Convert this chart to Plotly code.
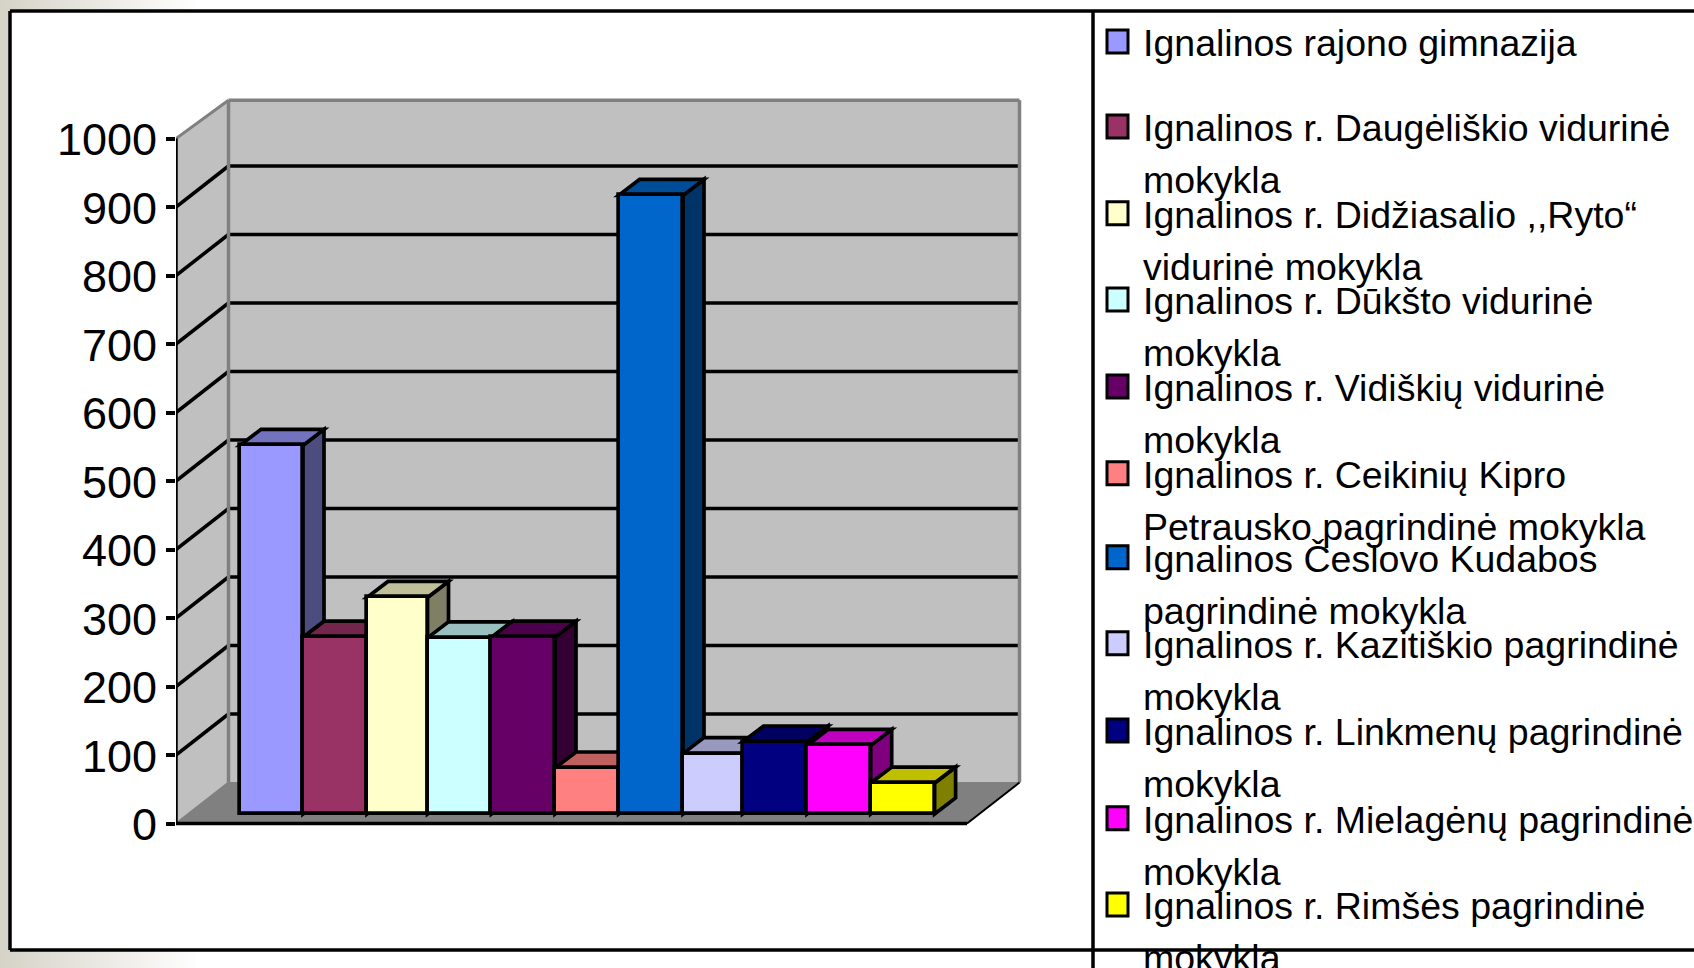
import plotly.graph_objects as go

# ---- data ----
SCHOOLS = [
    "Ignalinos rajono gimnazija",
    "Ignalinos r. Daugėliškio vidurinė mokykla",
    "Ignalinos r. Didžiasalio ,,Ryto“ vidurinė mokykla",
    "Ignalinos r. Dūkšto vidurinė mokykla",
    "Ignalinos r. Vidiškių vidurinė mokykla",
    "Ignalinos r. Ceikinių Kipro Petrausko pagrindinė mokykla",
    "Ignalinos Česlovo Kudabos pagrindinė mokykla",
    "Ignalinos r. Kazitiškio pagrindinė mokykla",
    "Ignalinos r. Linkmenų pagrindinė mokykla",
    "Ignalinos r. Mielagėnų pagrindinė mokykla",
    "Ignalinos r. Rimšės pagrindinė mokykla",
]
VALUES = [538, 258, 316, 257, 258, 67, 903, 88, 105, 100, 45]
TICKS = [0, 100, 200, 300, 400, 500, 600, 700, 800, 900, 1000]
# legend text is broken the way the reference breaks it
LEGEND_LINES = [
    ["Ignalinos rajono gimnazija"],
    ["Ignalinos r. Daugėliškio vidurinė", "mokykla"],
    ["Ignalinos r. Didžiasalio ,,Ryto“", "vidurinė mokykla"],
    ["Ignalinos r. Dūkšto vidurinė", "mokykla"],
    ["Ignalinos r. Vidiškių vidurinė", "mokykla"],
    ["Ignalinos r. Ceikinių Kipro", "Petrausko pagrindinė mokykla"],
    ["Ignalinos Česlovo Kudabos", "pagrindinė mokykla"],
    ["Ignalinos r. Kazitiškio pagrindinė", "mokykla"],
    ["Ignalinos r. Linkmenų pagrindinė", "mokykla"],
    ["Ignalinos r. Mielagėnų pagrindinė", "mokykla"],
    ["Ignalinos r. Rimšės pagrindinė", "mokykla"],
]
COLORS = ["#9999FF", "#993366", "#FFFFCC", "#CCFFFF", "#660066", "#FF8080",
          "#0066CC", "#CCCCFF", "#000080", "#FF00FF", "#FFFF00"]

# ---- layout constants (page pixels) ----
W, H = 1694, 968
PLOT_L = 176
Y0_PX, Y_SCALE = 823.5, 0.685      # pixel of value 0, pixels per value unit
CAT_PX, CAT0_PX = 63.2, 271.6      # pixels per category, centre of category 0
# source rendering rounds bar widths unevenly: bar edges in page pixels
BAR_EDGES_PX = [240, 303, 367, 427.5, 491.4, 555, 618.6, 683, 742.5, 807, 870.7, 934.6]
WALL_DX = 52.5 / CAT_PX            # wall depth, in category units
WALL_DY = 41 / Y_SCALE             # wall depth, in value units
BAR_DX = 21 / CAT_PX               # bar depth
BAR_DY = 16 / Y_SCALE
BAR_BASE = 14                      # lift of the bar fronts off the front floor edge
X_LEFT = (PLOT_L - CAT0_PX) / CAT_PX
X_FLOOR_R = (967 - CAT0_PX) / CAT_PX
WALL_TOP = 1000 + WALL_DY - 4
LEGEND_BASE = [55, 140, 226.7, 313, 400, 486.7, 570.7, 656.7, 744, 831.7, 918]
LEGEND_SHIFT = 1
LINE2 = 52
FONT = "Liberation Sans"
TICK_FS, LEG_FS = 45, 37.5
EDGE_W = 3.7


def shade(hex_c, k):
    r, g, b = (int(hex_c[i:i + 2], 16) for i in (1, 3, 5))
    return f"rgb({int(r * k)},{int(g * k)},{int(b * k)})"


def px(pt):
    return (pt - PLOT_L) / (W - PLOT_L)


def py(pt):
    return (H - pt) / H


def cat(pt):
    return (pt - CAT0_PX) / CAT_PX


def poly(points, fill, line="black", width=EDGE_W):
    d = "M" + " L".join(f"{x:.4f},{y:.3f}" for x, y in points) + " Z"
    return dict(type="path", path=d, xref="x", yref="y", layer="below",
                fillcolor=fill, line=dict(color=line, width=width))


def seg(x0, y0, x1, y1, color="black", width=3.5):
    return dict(type="line", x0=x0, y0=y0, x1=x1, y1=y1, xref="x", yref="y",
                layer="below", line=dict(color=color, width=width))


def paper_rect(x0, y0, x1, y1, fill, layer="below", line=None):
    return dict(type="rect", xref="paper", yref="paper", layer=layer,
                x0=px(x0), x1=px(x1), y0=py(y0), y1=py(y1), fillcolor=fill,
                line=line or dict(width=0))


def paper_line(x0, y0, x1, y1, width=3.5):
    return dict(type="line", xref="paper", yref="paper", layer="above",
                x0=px(x0), x1=px(x1), y0=py(y0), y1=py(y1),
                line=dict(color="black", width=width))


shapes = []
# page background strips, fading to white
STRIP = (214, 211, 200)
shapes.append(paper_rect(0, 0, 10, H, f"rgb{STRIP}"))
STEPS = 39
for k in range(STEPS):
    t = k / STEPS
    c = tuple(int(s + (255 - s) * t) for s in STRIP)
    x0, x1 = 195 * k / STEPS, 195 * (k + 1) / STEPS + 1
    shapes.append(paper_rect(x0, 0, x1, 10, f"rgb{c}"))
    shapes.append(paper_rect(x0, 950, x1, H, f"rgb{c}"))

# walls and floor of the 3-D box
XB = X_LEFT + WALL_DX
XB_R = X_FLOOR_R + WALL_DX
shapes.append(poly([(X_LEFT, 0), (XB, WALL_DY), (XB, WALL_TOP), (X_LEFT, 1000)], "#C0C0C0", "#C0C0C0", 1))
shapes.append(poly([(XB, WALL_DY), (XB_R, WALL_DY), (XB_R, WALL_TOP), (XB, WALL_TOP)], "#C0C0C0", "#C0C0C0", 1))
for t in TICKS[1:-1]:
    shapes.append(seg(X_LEFT, t, XB, t + WALL_DY))
    shapes.append(seg(XB, t + WALL_DY, XB_R, t + WALL_DY))
shapes.append(poly([(X_LEFT, 0), (XB, WALL_DY), (XB_R, WALL_DY), (X_FLOOR_R, 0)], "#808080", "#808080", 1))
shapes.append(seg(XB, WALL_DY, XB, WALL_TOP, "#808080", 3.5))
shapes.append(seg(XB, WALL_TOP, XB_R, WALL_TOP, "#808080", 3.5))
shapes.append(seg(XB_R, WALL_DY, XB_R, WALL_TOP, "#808080", 3.5))
shapes.append(seg(X_LEFT, 1000, XB, WALL_TOP, "#808080", 3))
shapes.append(seg(X_LEFT, 0, XB, WALL_DY, "#808080", 2))
shapes.append(seg(X_FLOOR_R, 0, XB_R, WALL_DY, "black", 2))
shapes.append(seg(X_LEFT, 0, X_FLOOR_R, 0, "black", 3.5))
shapes.append(seg(X_LEFT, 0, X_LEFT, 1000, "black", 3.5))

# bar top and side faces, drawn left to right so later bars cover earlier ones
LEFTS = [cat(p) for p in BAR_EDGES_PX[:-1]]
RIGHTS = [cat(p) for p in BAR_EDGES_PX[1:]]
for xl, xr, v, c in zip(LEFTS, RIGHTS, VALUES, COLORS):
    top = BAR_BASE + v
    shapes.append(poly([(xr, BAR_BASE), (xr + BAR_DX, BAR_BASE + BAR_DY),
                        (xr + BAR_DX, top + BAR_DY), (xr, top)], shade(c, 0.5)))
    shapes.append(poly([(xl, top), (xl + BAR_DX, top + BAR_DY),
                        (xr + BAR_DX, top + BAR_DY), (xr, top)], shade(c, 0.75)))

# legend swatches and text
annotations = []
for base, lines, c in zip(LEGEND_BASE, LEGEND_LINES, COLORS):
    b = base + LEGEND_SHIFT
    shapes.append(paper_rect(1107, b - 26, 1128, b - 3, c, "above",
                             dict(color="black", width=3)))
    for j, text in enumerate(lines):
        annotations.append(dict(
            text=text, xref="paper", yref="paper", showarrow=False,
            x=px(1141), y=py(b + j * LINE2 - 0.35 * LEG_FS),
            xanchor="left", yanchor="middle", align="left",
            font=dict(family=FONT, size=LEG_FS, color="black")))

# frame
shapes.append(paper_line(10, 11, W, 11))
shapes.append(paper_line(10, 11, 10, 950))
shapes.append(paper_line(10, 950, W, 950))
shapes.append(paper_line(1093, 11, 1093, H))

fig = go.Figure()
for xl, xr, name, v, c in zip(LEFTS, RIGHTS, SCHOOLS, VALUES, COLORS):
    fig.add_trace(go.Bar(x=[(xl + xr) / 2], y=[v], base=BAR_BASE, width=xr - xl, name=name,
                         marker=dict(color=c, line=dict(color="black", width=EDGE_W)),
                         showlegend=False))

fig.update_layout(
    width=W, height=H, autosize=False,
    margin=dict(l=PLOT_L, r=0, t=0, b=0, pad=0),
    paper_bgcolor="white", plot_bgcolor="rgba(0,0,0,0)",
    showlegend=False, barmode="overlay", bargap=0,
    font=dict(family=FONT, color="black"),
    shapes=shapes, annotations=annotations,
    xaxis=dict(range=[X_LEFT, X_LEFT + (W - PLOT_L) / CAT_PX], visible=False, fixedrange=True),
    yaxis=dict(range=[(Y0_PX - H) / Y_SCALE, Y0_PX / Y_SCALE],
               tickmode="array", tickvals=TICKS, ticktext=[str(t) for t in TICKS],
               ticks="outside", ticklen=9, tickwidth=3.5, tickcolor="black",
               tickfont=dict(family=FONT, size=TICK_FS, color="black"),
               showgrid=False, zeroline=False, showline=False, fixedrange=True,
               ticklabelstandoff=0, ticklabelshift=1),
)
fig.write_html("out.html", config={"displayModeBar": False},
               post_script="document.body.style.margin='0';document.body.style.overflow='hidden';")
